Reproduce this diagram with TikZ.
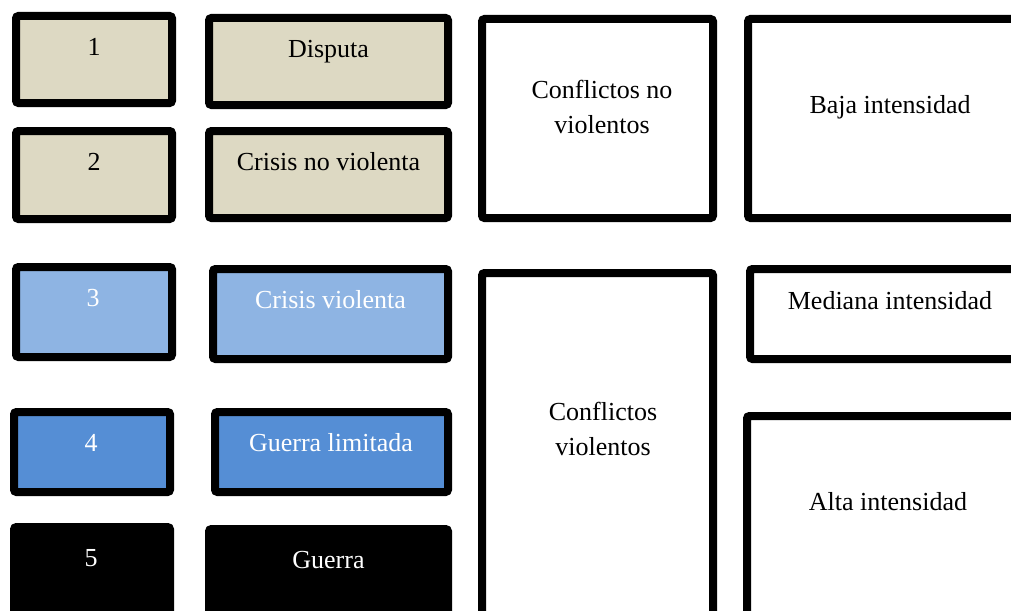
\documentclass[tikz,border=0pt]{standalone}
\usepackage{fontspec}
\setmainfont{Liberation Serif}
\usetikzlibrary{shadows}
\definecolor{beige}{HTML}{DDD9C3}
\definecolor{lightblue}{HTML}{8EB4E3}
\definecolor{midblue}{HTML}{558ED5}
\tikzset{box/.style={draw=black, line width=8pt, rounded corners=2.5pt, inner sep=0pt,
    drop shadow={opacity=0.2, shadow xshift=0.5pt, shadow yshift=-3pt}}}
\tikzset{lbl/.style={font=\fontsize{26}{35}\selectfont, inner sep=0pt}}
\begin{document}
\begin{tikzpicture}[x=1pt, y=-1pt]
    \useasboundingbox (0,0) rectangle (1011,610);
    \clip (0,0) rectangle (1011,610);
    \node[box, fill=beige, minimum width=156, minimum height=87] (n1) at (94,59.5) {};
    \node[box, fill=beige, minimum width=239, minimum height=87] (disputa) at (328.5,61.5) {};
    \node[box, fill=beige, minimum width=156, minimum height=88] (n2) at (94,175) {};
    \node[box, fill=beige, minimum width=239, minimum height=87] (crisisnv) at (328.5,174.5) {};
    \node[box, fill=lightblue, minimum width=156, minimum height=90] (n3) at (94,312) {};
    \node[box, fill=lightblue, minimum width=235, minimum height=90] (crisisv) at (330.5,314) {};
    \node[box, fill=midblue, minimum width=156, minimum height=80] (n4) at (92,452) {};
    \node[box, fill=midblue, minimum width=233, minimum height=80] (guerralim) at (331.5,452) {};
    \node[box, fill=black, minimum width=156, minimum height=89] (n5) at (92,571.5) {};
    \node[box, fill=black, minimum width=239, minimum height=87] (guerra) at (328.5,572.5) {};
    \node[box, fill=white, minimum width=231, minimum height=199] (noviol) at (597.5,118.5) {};
    \node[box, fill=white, minimum width=231, minimum height=363] (viol) at (597.5,454.5) {};
    \node[box, fill=white, minimum width=282, minimum height=199] (baja) at (889,118.5) {};
    \node[box, fill=white, minimum width=280, minimum height=90] (mediana) at (890,314) {};
    \node[box, fill=white, minimum width=283, minimum height=210] (alta) at (888.5,521) {};
    \node[lbl, anchor=base] (t1) at (94,56) {1};
    \node[lbl, anchor=base] (tdisputa) at (328.5,57) {Disputa};
    \node[lbl, anchor=base] (t2) at (94,170) {2};
    \node[lbl, anchor=base] (tcrisisnv) at (328.5,170) {Crisis no violenta};
    \node[lbl, anchor=base, white] (t3) at (93,306) {3};
    \node[lbl, anchor=base, white] (tcrisisv) at (330.5,308) {Crisis violenta};
    \node[lbl, anchor=base, white] (t4) at (91,451) {4};
    \node[lbl, anchor=base, white] (tguerralim) at (331,451) {Guerra limitada};
    \node[lbl, anchor=base, white] (t5) at (91,566) {5};
    \node[lbl, anchor=base, white] (tguerra) at (328.5,568) {Guerra};
    \node[lbl, align=center] (tnoviol) at (602,107) {Conflictos no\\violentos};
    \node[lbl, align=center] (tviol) at (603,429) {Conflictos\\violentos};
    \node[lbl, anchor=base] (tbaja) at (890,113) {Baja intensidad};
    \node[lbl, anchor=base] (tmediana) at (890,309) {Mediana intensidad};
    \node[lbl, anchor=base] (talta) at (888,510) {Alta intensidad};
\end{tikzpicture}
\end{document}
